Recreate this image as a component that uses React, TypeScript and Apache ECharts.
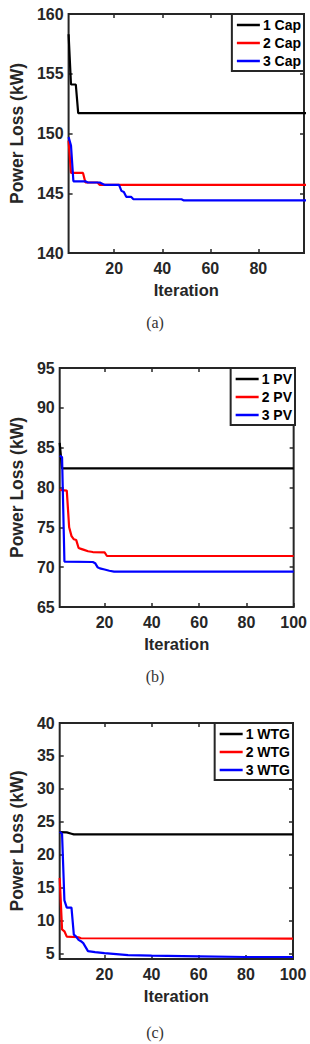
import React, { useEffect, useRef } from "react";
import * as echarts from "echarts";

// ---- Data (iteration, power loss kW) breakpoints ----
const capOne = [[1, 158.3], [2, 154.1], [4, 154.1], [5, 151.7], [100, 151.7]];
const capTwo = [[1, 149.4], [2, 146.7], [7, 146.7], [8, 145.9], [13, 145.9], [14, 145.7], [100, 145.7]];
const capThree = [[1, 149.7], [2, 149.0], [3, 146.0], [8, 146.0], [9, 145.9], [14, 145.9], [15, 145.8], [16, 145.7], [22, 145.7], [23, 145.2], [24, 145.1], [25, 144.7], [27, 144.7], [28, 144.5], [48, 144.5], [49, 144.4], [100, 144.4]];

const pvOne = [[1, 85.6], [2, 82.4], [100, 82.4]];
const pvTwo = [[1, 79.7], [4, 79.6], [5, 75.0], [6, 73.9], [7, 73.5], [8, 73.4], [9, 72.4], [10, 72.3], [11, 72.2], [13, 72.0], [15, 71.9], [20, 71.85], [21, 71.4], [100, 71.4]];
const pvThree = [[1, 84.0], [2, 83.8], [3, 70.7], [15, 70.65], [16, 70.5], [17, 70.0], [18, 69.85], [20, 69.7], [22, 69.55], [24, 69.45], [100, 69.45]];

const wtgOne = [[1, 23.45], [4, 23.4], [6, 23.2], [7, 23.1], [100, 23.1]];
const wtgTwo = [[1, 16.5], [2, 8.7], [3, 8.4], [4, 7.6], [9, 7.5], [10, 7.35], [100, 7.3]];
const wtgThree = [[1, 23.5], [2, 23.2], [3, 13.1], [4, 12.0], [6, 12.0], [7, 7.9], [8, 7.6], [9, 7.1], [10, 6.9], [11, 6.6], [12, 6.0], [13, 5.4], [16, 5.25], [20, 5.1], [25, 4.95], [30, 4.8], [40, 4.7], [60, 4.6], [80, 4.5], [100, 4.5]];

const namesA = ["1 Cap", "2 Cap", "3 Cap"];
const namesB = ["1 PV", "2 PV", "3 PV"];
const namesC = ["1 WTG", "2 WTG", "3 WTG"];

const xTicksA = [20, 40, 60, 80];
const xTicksBC = [20, 40, 60, 80, 100];
const yTicksA = [140, 145, 150, 155, 160];
const yTicksB = [65, 70, 75, 80, 85, 90, 95];
const yTicksC = [5, 10, 15, 20, 25, 30, 35, 40];

const captions = ["(a)", "(b)", "(c)"];
const xTitle = "Iteration";
const yTitle = "Power Loss (kW)";

const COLORS = ["#000000", "#ff0000", "#0000ff"];
const AX = "#262626";
const FONT = "'Liberation Sans', Arial, Helvetica, sans-serif";

export default function App() {
  const ref = useRef<HTMLDivElement>(null);

  useEffect(() => {
    if (!ref.current) return;
    const chart = echarts.init(ref.current, undefined, { renderer: "svg" });

    const panels = [
      { grid: { left: 57, top: 14, width: 247, height: 239 }, xmin: 1, xmax: 99, xt: xTicksA, ymin: 140, ymax: 160, yt: yTicksA, names: namesA, data: [capOne, capTwo, capThree], nameGapY: 34, legendRight: 6, cap: 322 },
      { grid: { left: 49, top: 368, width: 246, height: 239 }, xmin: 1, xmax: 100, xt: xTicksBC, ymin: 65, ymax: 95, yt: yTicksB, names: namesB, data: [pvOne, pvTwo, pvThree], nameGapY: 26, legendRight: 15, cap: 676 },
      { grid: { left: 49, top: 723, width: 244, height: 236 }, xmin: 1, xmax: 100, xt: xTicksBC, ymin: 4.2, ymax: 40, yt: yTicksC, names: namesC, data: [wtgOne, wtgTwo, wtgThree], nameGapY: 26, legendRight: 17, cap: 1032 },
    ];

    const grids: any[] = [];
    const xAxes: any[] = [];
    const yAxes: any[] = [];
    const series: any[] = [];
    const legends: any[] = [];
    const graphics: any[] = [];

    const tick = (vals: number[]) => ({
      show: true,
      inside: true,
      length: 4,
      customValues: vals,
      lineStyle: { color: AX, width: 1.5 },
    });

    panels.forEach((p, i) => {
      grids.push({
        ...p.grid,
        show: true,
        borderColor: AX,
        borderWidth: 2,
        backgroundColor: "transparent",
      });
      xAxes.push({
        type: "value",
        gridIndex: i,
        min: p.xmin,
        max: p.xmax,
        position: "bottom",
        axisLine: { show: false },
        axisTick: tick(p.xt),
        splitLine: { show: false },
        axisLabel: {
          customValues: p.xt,
          margin: 7,
          color: AX,
          fontSize: 16,
          fontWeight: "bold",
          fontFamily: FONT,
        },
        name: xTitle,
        nameLocation: "middle",
        nameGap: 28,
        nameTextStyle: { color: AX, fontSize: 16.5, fontWeight: "bold", fontFamily: FONT },
      });
      xAxes.push({
        type: "value",
        gridIndex: i,
        min: p.xmin,
        max: p.xmax,
        position: "top",
        axisLine: { show: false },
        axisTick: tick(p.xt),
        splitLine: { show: false },
        axisLabel: { show: false },
      });
      yAxes.push({
        type: "value",
        gridIndex: i,
        min: p.ymin,
        max: p.ymax,
        position: "left",
        axisLine: { show: false },
        axisTick: tick(p.yt),
        splitLine: { show: false },
        axisLabel: {
          customValues: p.yt,
          margin: 5,
          color: AX,
          fontSize: 16,
          fontWeight: "bold",
          fontFamily: FONT,
        },
        name: yTitle,
        nameLocation: "middle",
        nameRotate: 90,
        nameGap: p.nameGapY,
        nameTextStyle: { color: AX, fontSize: 17.5, fontWeight: "bold", fontFamily: FONT },
      });
      yAxes.push({
        type: "value",
        gridIndex: i,
        min: p.ymin,
        max: p.ymax,
        position: "right",
        axisLine: { show: false },
        axisTick: tick(p.yt),
        splitLine: { show: false },
        axisLabel: { show: false },
      });
      p.data.forEach((d, k) => {
        series.push({
          type: "line",
          name: p.names[k],
          xAxisIndex: i * 2,
          yAxisIndex: i * 2,
          data: d,
          symbol: "none",
          showSymbol: false,
          clip: true,
          color: COLORS[k],
          lineStyle: { color: COLORS[k], width: 2.2 },
          z: 5,
        });
      });
      legends.push({
        data: p.names,
        orient: "vertical",
        right: p.legendRight,
        top: p.grid.top,
        icon: "rect",
        itemWidth: 23,
        itemHeight: 2.5,
        itemGap: 4,
        padding: [4, 3, 3, 5],
        borderColor: AX,
        borderWidth: 2,
        backgroundColor: "#ffffff",
        selectedMode: false,
        z: 10,
        textStyle: {
          color: "#000",
          fontSize: 14,
          fontWeight: "bold",
          fontFamily: FONT,
          lineHeight: 14,
          padding: [0, 0, 0, -2],
        },
      });
      graphics.push({
        type: "text",
        x: 155,
        y: p.cap,
        style: {
          text: captions[i],
          fill: "#333",
          font: "16px 'Liberation Serif', 'Times New Roman', serif",
          textAlign: "center",
          textVerticalAlign: "middle",
        },
      });
    });

    chart.setOption({
      animation: false,
      backgroundColor: "#ffffff",
      grid: grids,
      xAxis: xAxes,
      yAxis: yAxes,
      legend: legends,
      series,
      graphic: graphics,
    });

    return () => chart.dispose();
  }, []);

  return (
    <div
      ref={ref}
      style={{ position: "absolute", left: 0, top: 0, width: 310, height: 1044, background: "#fff" }}
    />
  );
}
